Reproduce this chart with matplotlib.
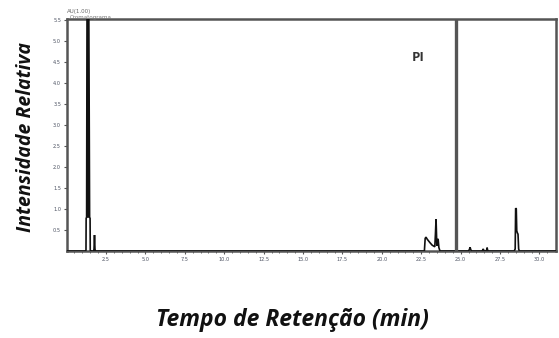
import numpy as np
import matplotlib
matplotlib.use("Agg")
import matplotlib.pyplot as plt

# Chromatogram trace: retention time (min) and relative intensity
tempo = [0.00, 1.20, 1.23, 1.24, 1.27, 1.30, 1.40, 1.46, 1.49, 1.50, 1.53,
         1.72, 1.74, 1.77, 1.80, 1.82,
         22.70, 22.75, 22.80, 22.88, 23.05, 23.19, 23.36, 23.40, 23.44, 23.49,
         23.52, 23.57, 23.62, 23.69,
         25.50, 25.56, 25.60, 25.64, 25.70,
         26.35, 26.40, 26.43, 26.47, 26.60, 26.66, 26.68, 26.71, 26.76,
         28.40, 28.46, 28.49, 28.53, 28.56, 28.60, 28.64, 28.68, 28.72, 31.00]
intensidade = [0.00, 0.00, 0.02, 0.78, 0.80, 6.50, 6.50, 0.80, 0.78, 0.02, 0.00,
               0.00, 0.05, 0.38, 0.05, 0.00,
               0.00, 0.30, 0.33, 0.28, 0.20, 0.14, 0.10, 0.40, 0.76, 0.12,
               0.20, 0.29, 0.08, 0.00,
               0.00, 0.04, 0.09, 0.03, 0.00,
               0.00, 0.02, 0.05, 0.01, 0.00, 0.03, 0.08, 0.02, 0.00,
               0.00, 0.05, 1.02, 1.00, 0.48, 0.43, 0.40, 0.05, 0.00, 0.00]

# internal standard (PI) retention time
tempo_pi = 24.71

x_ticks = [2.5, 5.0, 7.5, 10.0, 12.5, 15.0, 17.5, 20.0, 22.5, 25.0, 27.5, 30.0]
y_ticks = [0.5, 1.0, 1.5, 2.0, 2.5, 3.0, 3.5, 4.0, 4.5, 5.0, 5.5]

W, H = 559, 338
fig = plt.figure(figsize=(W / 100, H / 100), dpi=100)
ax = fig.add_axes([66.6 / W, 1 - 251 / H, (556 - 66.6) / W, (251 - 19) / H])

t = np.array(tempo)
v = np.array(intensidade)
ax.plot(t, v, color="#111111", lw=1.2, solid_joinstyle="miter", zorder=3)
ax.fill_between(t, 0.79, v, where=v >= 0.79, color="#111111", lw=0, zorder=3)
ax.axvline(tempo_pi, color="#555555", lw=2.4, zorder=4)

ax.set_xlim(0, 31.05)
ax.set_ylim(0, 5.52)
ax.set_xticks(x_ticks)
ax.set_xticklabels([f"{x:.1f}" for x in x_ticks])
ax.set_xticks(np.arange(0.5, 31.0, 0.5), minor=True)
ax.set_yticks(y_ticks)
ax.set_yticklabels([f"{y:.1f}" for y in y_ticks])

ax.tick_params(axis="both", which="major", direction="out", length=2.5,
               width=0.8, color="#555555", labelsize=3.6, labelcolor="#4a5060",
               pad=1.5)
ax.tick_params(axis="x", which="minor", direction="out", length=1.6,
               width=0.7, color="#666666")
for s in ax.spines.values():
    s.set_color("#555555")
    s.set_linewidth(1.8)

ax.text(22.3, 4.6, "PI", fontsize=9.5, fontweight="bold", family="Open Sans",
        color="#333333", ha="center", va="center")

# instrument header above the frame
fig.text(67 / W, 1 - 12 / H, "AU(1.00)", fontsize=4, color="#666666",
         ha="left", va="center", zorder=10)
fig.text(70 / W, 1 - 18 / H, "Cromatograma", fontsize=4, color="#777777",
         ha="left", va="center", zorder=10)

fig.text(26 / W, 1 - 137 / H, "Intensidade Relativa", rotation=90,
         fontsize=14, fontweight="bold", style="italic", family="Open Sans",
         color="#111111", ha="center", va="center")
fig.text(292 / W, 1 - 320 / H, "Tempo de Retenção (min)",
         fontsize=16.5, fontweight="bold", style="italic", family="Open Sans",
         color="#111111", ha="center", va="center")

fig.savefig("out.png", dpi=100, facecolor="white")
